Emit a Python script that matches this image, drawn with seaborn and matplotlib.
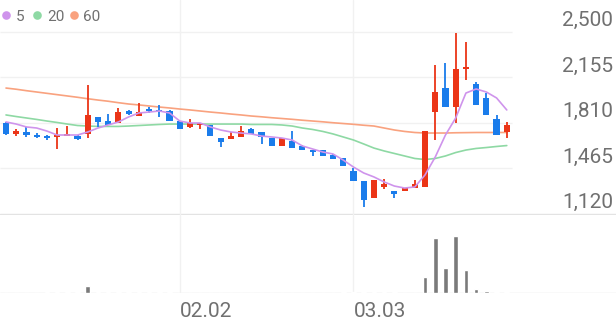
import numpy as np
import pandas as pd
import matplotlib
matplotlib.use("Agg")
import matplotlib.pyplot as plt
import seaborn as sns

# ---------------- data ----------------
open_ = [1810, 1727, 1742, 1719, 1711, 1704, 1711, 1711, 1727, 1856,
         1825, 1810, 1901, 1863, 1916, 1901, 1901, 1825, 1780, 1795,
         1795, 1696, 1689, 1704, 1765, 1742, 1696, 1636, 1674, 1636,
         1598, 1605, 1567, 1545, 1446, 1370, 1241, 1325, 1294, 1294,
         1317, 1325, 1893, 2075, 1931, 2219, 2106, 2000, 1840, 1742]
close = [1727, 1749, 1719, 1704, 1696, 1711, 1719, 1689, 1871, 1818,
         1795, 1893, 1878, 1893, 1901, 1893, 1825, 1765, 1810, 1802,
         1711, 1666, 1711, 1749, 1727, 1704, 1636, 1696, 1621, 1605,
         1590, 1560, 1537, 1484, 1370, 1226, 1378, 1348, 1272, 1317,
         1348, 1749, 2045, 1931, 2219, 2227, 1947, 1871, 1719, 1795]
high = [1818, 1765, 1780, 1734, 1719, 1772, 1787, 1719, 2098, 1856,
        1878, 1924, 1909, 1962, 1931, 1947, 1909, 1825, 1840, 1810,
        1795, 1696, 1742, 1787, 1772, 1742, 1696, 1696, 1749, 1643,
        1598, 1605, 1575, 1545, 1469, 1370, 1378, 1385, 1294, 1317,
        1378, 1749, 2250, 2265, 2492, 2424, 2121, 2037, 1871, 1818]
low = [1719, 1711, 1704, 1696, 1681, 1613, 1711, 1681, 1696, 1780,
       1795, 1810, 1871, 1863, 1886, 1856, 1825, 1765, 1772, 1765,
       1711, 1628, 1689, 1704, 1727, 1651, 1636, 1636, 1621, 1605,
       1560, 1560, 1537, 1484, 1370, 1173, 1241, 1310, 1241, 1294,
       1317, 1325, 1681, 1931, 1810, 2136, 1947, 1871, 1719, 1696]

ma5 = [1818, 1802, 1780, 1772, 1749, 1719, 1719, 1719, 1742, 1772,
       1795, 1818, 1856, 1886, 1893, 1901, 1886, 1825, 1810, 1810,
       1780, 1757, 1742, 1734, 1727, 1711, 1704, 1696, 1681, 1636,
       1613, 1590, 1575, 1529, 1476, 1431, 1401, 1363, 1332, 1317,
       1325, 1416, 1552, 1719, 1848, 2037, 2068, 2045, 2000, 1909]
ma20 = [1871, 1859, 1848, 1837, 1825, 1814, 1802, 1791, 1787, 1784,
        1784, 1784, 1787, 1791, 1795, 1799, 1802, 1802, 1802, 1802,
        1802, 1802, 1802, 1802, 1799, 1799, 1799, 1795, 1787, 1772,
        1761, 1746, 1727, 1704, 1681, 1651, 1620, 1598, 1579, 1560,
        1541, 1533, 1541, 1560, 1586, 1605, 1617, 1624, 1632, 1639]
ma60 = [2075, 2066, 2055, 2045, 2035, 2025, 2015, 2005, 1994, 1984,
        1975, 1964, 1954, 1947, 1939, 1931, 1924, 1916, 1909, 1901,
        1893, 1886, 1878, 1871, 1863, 1857, 1850, 1844, 1838, 1831,
        1825, 1819, 1812, 1806, 1800, 1793, 1787, 1772, 1757, 1746,
        1738, 1734, 1734, 1734, 1736, 1737, 1738, 1738, 1738, 1738]

volume = [0.5, 0.3, 0.3, 0.3, 0.8, 0.9, 0.8, 0.8, 7.0, 0.8,
          0.8, 0.8, 0.9, 0.8, 0.8, 0.9, 0.8, 0.3, 0.3, 0.3,
          0.3, 0.3, 0.3, 0.3, 0.3, 0.3, 0.3, 0.3, 0.3, 0.3,
          0.3, 0.3, 0.3, 0.8, 0.9, 0.8, 0.8, 0.8, 0.8, 0.3,
          0.3, 16.0, 55.0, 25.0, 57.0, 23.0, 4.0, 2.5, 1.4, 1.2]

price_ticks = [1120, 1465, 1810, 2155, 2500]
date_labels = ["02.02", "03.03"]
date_idx = [17, 34]
ma_names = ["5", "20", "60"]

# ---------------- style ----------------
RED = "#EB3517"
BLUE = "#1A7CEB"
C5, C20, C60 = "#CF94EC", "#8ED9A4", "#F9A27F"
GRID = "#F1F1F1"
SEP = "#E3E3E3"
TXT = "#707070"

sns.set_theme(style="white")
plt.rcParams['font.family'] = ['Roboto', 'DejaVu Sans']

W, H = 616, 321
fig = plt.figure(figsize=(W / 100, H / 100), dpi=100)

step = 10.22
x0 = 6.0
xlim = (-x0 / step, (W - x0) / step)
grid_right = (512 - x0) / step
ppx = 345 / 45.5

ax = fig.add_axes([0, 1 - 215 / H, 1, 215 / H])
axv = fig.add_axes([0, 1 - 293 / H, 1, 78 / H])
for a in (ax, axv):
    a.set_axis_off()
    a.set_xlim(*xlim)

idx = np.arange(len(open_))
o = np.array(open_, float)
c = np.array(close, float)
hi = np.array(high, float)
lo = np.array(low, float)

# grid
for t in price_ticks[1:]:
    ax.hlines(t, xlim[0], grid_right, color=GRID, lw=1.0, zorder=0)
ax.axhline(1120, color=SEP, lw=1.0, zorder=0)
for d in date_idx:
    ax.axvline(d, color=GRID, lw=1.0, zorder=0)
    axv.axvline(d, color=GRID, lw=1.0, zorder=0)

# moving averages
df = pd.DataFrame({"i": idx, "ma5": ma5, "ma20": ma20, "ma60": ma60})
sns.lineplot(data=df, x="i", y="ma60", ax=ax, color=C60, lw=1.2, zorder=2)
sns.lineplot(data=df, x="i", y="ma20", ax=ax, color=C20, lw=1.2, zorder=2)
sns.lineplot(data=df, x="i", y="ma5", ax=ax, color=C5, lw=1.2, zorder=4)

# candles
up = c >= o
cols = [RED if u else BLUE for u in up]
ax.vlines(idx, lo, hi, colors=cols, lw=1.3, zorder=3)
body_bottom = np.minimum(o, c)
body_h = np.maximum(np.abs(c - o), 1.6 * ppx)
ax.bar(idx, body_h, bottom=body_bottom, width=0.6, color=cols, lw=0, zorder=3)

ax.set_ylim(1120 - 1 * ppx, 2500 + 32 * ppx)
ax.set_xlim(*xlim)

# price labels
for t in price_ticks:
    ax.annotate(f"{t:,}", xy=(1 - 3 / W, t), xycoords=("axes fraction", "data"),
                xytext=(0, 4.3), textcoords="offset points", ha="right",
                va="baseline", fontsize=15, color=TXT)

# volume
vdf = pd.DataFrame({"i": idx, "v": volume})
axv.axhline(0, color=SEP, lw=1.0, zorder=1)
sns.barplot(data=vdf, x="i", y="v", ax=axv, native_scale=True, width=0.45,
            color="#7A7A7A", saturation=1, errorbar=None, zorder=3)
axv.set_ylim(0, 78)
axv.set_xlim(*xlim)
axv.set_axis_off()

# date labels
for lab, d in zip(date_labels, date_idx):
    fig.text((x0 + d * step) / W, (H - 317) / H, lab, ha="left", va="baseline",
             fontsize=15, color=TXT)

# legend
for name, col, cx, tx in zip(ma_names, [C5, C20, C60], [5.7, 37, 74], [16, 47, 83]):
    fig.add_artist(plt.Line2D([cx / W], [(H - 15) / H], marker="o", ms=6.2,
                              color=col, mec="none", transform=fig.transFigure))
    fig.text(tx / W, (H - 21) / H, name, ha="left", va="baseline",
             fontsize=11, color=TXT)

fig.savefig("out.png", dpi=100)
